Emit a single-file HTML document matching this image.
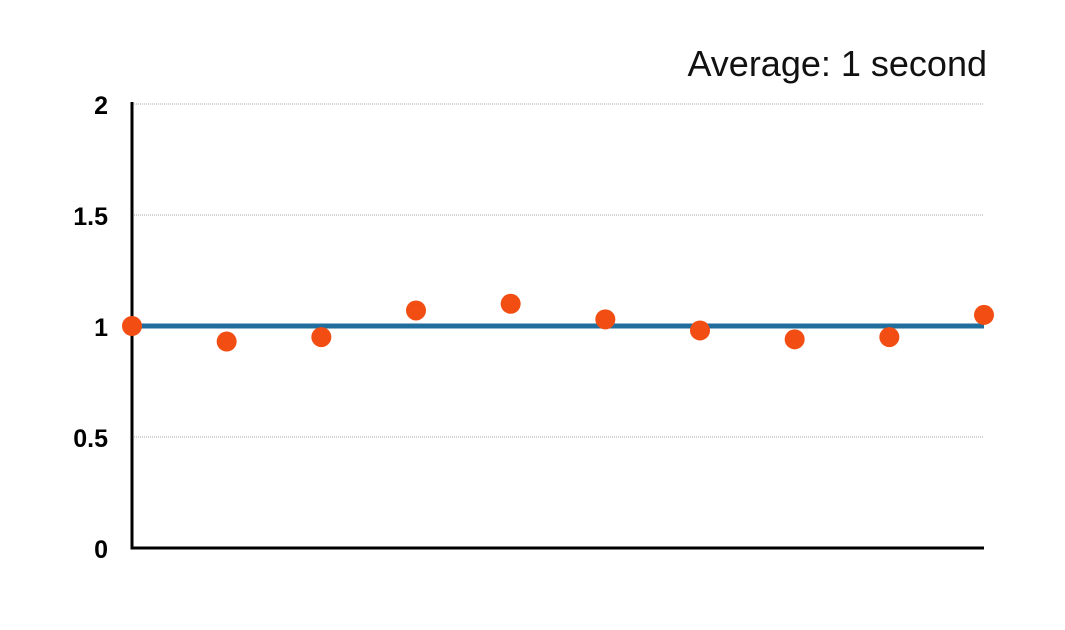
<!DOCTYPE html>
<html><head><meta charset="utf-8"><style>
body{margin:0;background:#fff;}
svg{display:block;font-family:"Liberation Sans",sans-serif;}
</style></head><body>
<svg id="chart" width="1065" height="630">
<text x="987" y="76" text-anchor="end" font-size="36" fill="#111">Average: 1 second</text>
<g id="grid"></g><g id="ticks"></g><g id="marks"></g>
</svg>
<script>
const categories=[1,2,3,4,5,6,7,8,9,10];
const values=[1.0,0.93,0.95,1.07,1.10,1.03,0.98,0.94,0.95,1.05];
const average=[1];
const yTicks=[0,0.5,1,1.5,2];
const yTickLabels=["0","0.5","1","1.5","2"];
const NS="http://www.w3.org/2000/svg";
const x0=132,x1=984,yBase=548,yTop=104;
function y(v){return yBase-(v/2)*(yBase-yTop);}
function x(i){return x0+(i/(categories.length-1))*(x1-x0);}
function mk(t,a,p){const e=document.createElementNS(NS,t);for(const k in a)e.setAttribute(k,a[k]);p.appendChild(e);return e;}
const grid=document.getElementById('grid'),ticks=document.getElementById('ticks'),marks=document.getElementById('marks');
yTicks.forEach((v,i)=>{
 if(v>0){const g=mk('line',{x1:x0,x2:x1,y1:y(v),y2:y(v),stroke:'#aaa','stroke-width':1,'stroke-dasharray':'1,1'},grid);
 
 }
 const t=mk('text',{x:108,y:y(v)+10,'text-anchor':'end','font-size':25,'font-weight':'bold',fill:'#000'},ticks);
 t.textContent=yTickLabels[i];
 
 
});
const ax=mk('path',{d:`M${x0} ${yTop-2} V${yBase} H${x1}`,fill:'none',stroke:'#000','stroke-width':3},grid);


const avg=mk('line',{x1:x0,x2:x1,y1:y(average[0]),y2:y(average[0]),stroke:'#1f6e9e','stroke-width':5},marks);


values.forEach((v,i)=>{
 const c=mk('circle',{cx:x(i),cy:y(v),r:10,fill:'#f24d12'},marks);
 
 
});
</script>
</body></html>
